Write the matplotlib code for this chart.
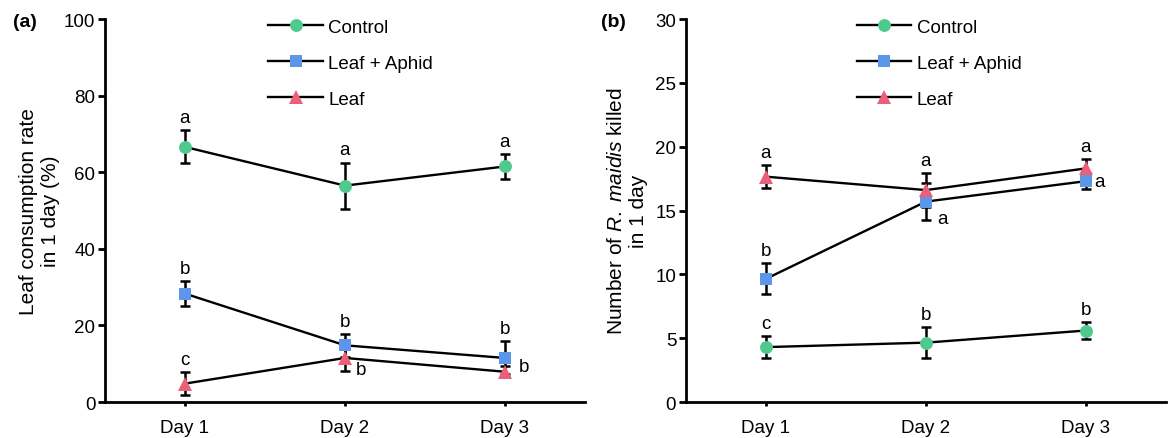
import matplotlib
matplotlib.use("Agg")
import matplotlib.pyplot as plt
import numpy as np

plt.rcParams["font.family"] = ["Liberation Sans", "DejaVu Sans"]
plt.rcParams["mathtext.fontset"] = "custom"
plt.rcParams["mathtext.rm"] = "Liberation Sans"
plt.rcParams["mathtext.it"] = "Liberation Sans:italic"

days = ["Day 1", "Day 2", "Day 3"]
series_names = ["Control", "Leaf + Aphid", "Leaf"]

# panel (a): leaf consumption rate (%)
a_control = [66.6, 56.5, 61.5]
a_control_err = [4.3, 6.0, 3.2]
a_leaf_aphid = [28.3, 14.8, 11.5]
a_leaf_aphid_err = [3.3, 3.0, 4.3]
a_leaf = [4.8, 11.5, 7.9]
a_leaf_err = [3.0, 3.5, 1.5]
a_letters_control = ["a", "a", "a"]
a_letters_leaf_aphid = ["b", "b", "b"]
a_letters_leaf = ["c", "b", "b"]

# panel (b): number of R. maidis killed
b_control = [4.3, 4.65, 5.6]
b_control_err = [0.85, 1.2, 0.65]
b_leaf_aphid = [9.65, 15.7, 17.3]
b_leaf_aphid_err = [1.2, 1.45, 0.6]
b_leaf = [17.65, 16.6, 18.3]
b_leaf_err = [0.9, 1.3, 0.7]
b_letters_control = ["c", "b", "b"]
b_letters_leaf_aphid = ["b", "a", "a"]
b_letters_leaf = ["a", "a", "a"]

colors = ["#50C98F", "#5B96E8", "#EB5F79"]
markers = ["o", "s", "^"]
msizes = [9.3, 9, 10]

FS = 13.5
fig = plt.figure(figsize=(11.69, 4.39), dpi=100)
ax_a = fig.add_axes([0.0898, 0.082, 0.4106, 0.8724])
ax_b = fig.add_axes([0.5868, 0.082, 0.4106, 0.8724])

x = np.arange(1, 4)


def draw_panel(ax, data, errs, letters, placements, leg_x):
    for i in range(3):
        ax.errorbar(x, data[i], yerr=errs[i], fmt="none", ecolor="black",
                    elinewidth=1.8, capsize=3.8, capthick=1.8, zorder=2)
        ax.plot(x, data[i], color="black", lw=1.7, marker=markers[i],
                ms=msizes[i], mfc=colors[i], mec=colors[i], mew=0,
                label=series_names[i], zorder=3)
        for j in range(3):
            place = placements[i][j]
            if place == "above":
                ax.annotate(letters[i][j], (x[j], data[i][j] + errs[i][j]),
                            xytext=(0, 3), textcoords="offset points",
                            ha="center", va="bottom", fontsize=FS)
            else:
                ax.annotate(letters[i][j], (x[j], data[i][j]),
                            xytext=place, textcoords="offset points",
                            ha="left", va="center", fontsize=FS)
    ax.set_xlim(0.5, 3.5)
    ax.set_xticks(x, days)
    for side in ["top", "right"]:
        ax.spines[side].set_visible(False)
    for side in ["left", "bottom"]:
        ax.spines[side].set_linewidth(2.0)
    ax.tick_params(axis="y", direction="out", length=5, width=2.0,
                   labelsize=FS, pad=2)
    ax.tick_params(axis="x", direction="out", length=3, width=2.0,
                   labelsize=FS, pad=9)
    ax.legend(loc="upper left", bbox_to_anchor=(leg_x, 1.02),
              frameon=False, fontsize=FS, handlelength=2.9,
              handletextpad=0.3, labelspacing=1.0, borderaxespad=0)


draw_panel(ax_a, [a_control, a_leaf_aphid, a_leaf],
           [a_control_err, a_leaf_aphid_err, a_leaf_err],
           [a_letters_control, a_letters_leaf_aphid, a_letters_leaf],
           [["above"] * 3, ["above"] * 3, ["above", (8, -8), (10, 4)]],
           0.325)
ax_a.set_ylim(0, 100)
ax_a.set_yticks(np.arange(0, 101, 20))
ax_a.set_ylabel("Leaf consumption rate\nin 1 day (%)", fontsize=15,
                linespacing=1.2, labelpad=3)

draw_panel(ax_b, [b_control, b_leaf_aphid, b_leaf],
           [b_control_err, b_leaf_aphid_err, b_leaf_err],
           [b_letters_control, b_letters_leaf_aphid, b_letters_leaf],
           [["above"] * 3, ["above", (8, -12), (6, 0)], ["above"] * 3],
           0.34)
ax_b.set_ylim(0, 30)
ax_b.set_yticks(np.arange(0, 31, 5))
ax_b.set_ylabel("Number of $\\mathit{R.\\ maidis}$ killed\nin 1 day",
                fontsize=15, linespacing=1.2, labelpad=5)

fig.text(0.011, 0.948, "(a)", fontsize=14, fontweight="bold", va="center")
fig.text(0.514, 0.948, "(b)", fontsize=14, fontweight="bold", va="center")

fig.savefig("out.png", dpi=100)
